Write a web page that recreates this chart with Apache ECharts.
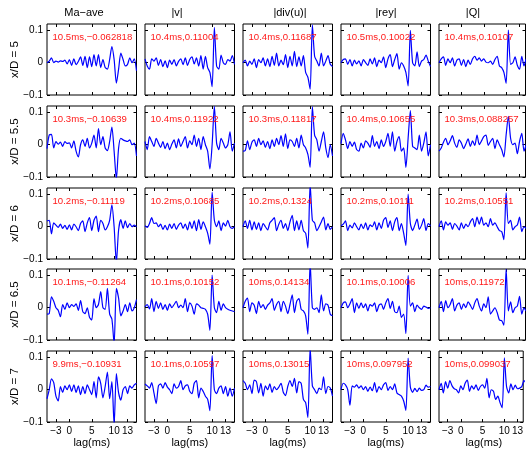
<!DOCTYPE html>
<html>
<head>
<meta charset="utf-8">
<script src="https://cdn.jsdelivr.net/npm/echarts@6/dist/echarts.min.js"></script>
<style>
html, body { margin: 0; padding: 0; background: #fff; }
#chart { width: 526px; height: 456px; }
</style>
</head>
<body>
<div id="chart"></div>
<script>
// lag grid (ms)
const lag = [-5,-4.5,-4,-3.5,-3,-2.5,-2,-1.5,-1,-0.5,0,0.5,1,1.5,2,2.5,3,3.5,4,4.5,5,5.5,6,6.5,7,7.5,8,8.5,9,9.5,10,10.5,11,11.5,12,12.5,13,13.5,14,14.5,15];

const colNames = ['Ma\u2212ave', '|v|', '|div(u)|', '|rey|', '|Q|'];
const rowNames = ['x/D = 5', 'x/D = 5.5', 'x/D = 6', 'x/D = 6.5', 'x/D = 7'];
const xTicks = [-3, 0, 5, 10, 13];
const yTicks = [-0.1, 0, 0.1];

// x/D = 5
const ma_5  = [0,0.005,0.015,0,0.005,0.002,0.006,0.004,0.008,-0.004,0.01,-0.008,0.012,-0.006,0.004,0.018,-0.008,0.02,-0.015,0.018,-0.012,0.025,-0.01,0.025,-0.015,0.01,-0.015,-0.02,0.01,0.05,0.01,-0.063,-0.02,0.03,0.01,-0.01,-0.005,0.015,0,0.012,-0.025];
const v_5   = [0.012,-0.01,-0.02,0.012,0.005,0.015,-0.008,0.01,-0.012,0.006,-0.015,0.008,-0.005,0.01,-0.01,0.004,0.012,-0.006,0.015,-0.008,0.01,0.018,-0.004,0.015,-0.01,0.022,-0.02,0.02,-0.015,-0.03,-0.074,0.11,-0.01,-0.02,0.024,0,-0.005,0.01,0.005,0.022,-0.005];
const div_5 = [0,0.008,-0.01,0.005,-0.005,0.012,-0.015,0.01,0,0.015,-0.01,0.012,-0.012,0.02,-0.008,0.03,-0.01,0.008,-0.006,0.025,-0.015,0.02,-0.01,0.035,-0.012,0.018,-0.01,0.022,-0.03,-0.045,-0.082,0.117,0.02,0.005,-0.01,0.03,-0.01,0.005,0.022,-0.005,-0.012];
const rey_5 = [0,0.01,0.012,-0.005,0.01,-0.01,0.008,-0.004,0.006,-0.01,0.01,0,-0.008,0.012,-0.004,0.015,-0.012,0.008,0,0.018,-0.015,0.012,0.025,-0.012,0.01,0.028,-0.02,0,-0.01,-0.03,-0.072,0.1,0,-0.01,0.034,-0.012,0.005,0.01,0.024,0.005,-0.012];
const q_5   = [0,0.012,0.018,-0.008,0.012,0,0.015,-0.01,0.008,0.012,-0.008,0.01,-0.012,0.008,-0.005,0.012,0.02,0.008,0.015,0.005,0.012,0.002,0,0.005,-0.005,0.01,0.02,-0.01,-0.015,-0.03,-0.064,0.101,-0.005,0,0.018,-0.008,-0.02,0.02,-0.01,0.012,-0.01];

// x/D = 5.5
const ma_55  = [-0.012,0.03,0.032,-0.01,0.01,0.002,0.008,-0.005,0.01,0.004,0.006,-0.01,0.012,-0.02,-0.038,0,0.015,-0.005,0.02,-0.01,0.005,0.03,-0.01,0.05,0,0.025,-0.01,-0.018,0.01,0.055,-0.02,-0.106,-0.01,0.02,0.015,0.012,0.01,0.015,0,0.005,-0.035];
const v_55   = [0.01,-0.015,0.025,0.01,-0.005,0.02,0.005,-0.008,0.01,-0.012,0.005,-0.015,0.002,0.015,-0.01,0.018,-0.005,0.01,0.025,-0.01,0.012,0,0.03,-0.005,0.02,-0.015,0.025,0,-0.02,-0.075,0,0.119,0.005,-0.015,0.02,0.005,-0.01,0,0.04,-0.02,0.005];
const div_55 = [-0.02,-0.018,0.012,-0.015,0.008,0.015,-0.005,0.02,0,0.012,-0.008,0.01,-0.012,0.015,-0.005,0.02,0,0.028,-0.005,0.034,-0.012,0.015,0.01,-0.005,0.02,-0.01,0.03,0,-0.01,-0.03,-0.07,0.118,0.03,0.015,-0.02,0.01,0.04,-0.01,-0.04,0,-0.035];
const rey_55 = [0.003,0.035,0.015,-0.012,0.01,-0.005,0.008,-0.015,-0.02,0.005,-0.01,0.012,0.005,-0.008,0.028,-0.005,0.01,-0.012,0.015,-0.005,0.01,0.035,-0.005,0.04,-0.02,0.01,0.025,-0.02,-0.01,-0.07,0.02,0.106,-0.005,-0.01,-0.015,0.03,-0.02,0.005,0.04,-0.035,0];
const q_55   = [-0.02,-0.01,0.008,0.02,0,0.012,0.028,0.005,-0.008,0.015,0.005,-0.012,0.002,0.018,-0.005,0.012,-0.002,0.03,0,0.012,0.025,0.03,-0.002,0.01,0.02,-0.012,0.015,0,-0.015,-0.038,0.03,0.088,0.02,0,0.005,-0.028,0.01,0.035,-0.02,0,0.01];

// x/D = 6
const ma_6  = [0.018,0.02,-0.022,0.012,0.005,-0.002,0.008,-0.005,0.004,-0.008,0.006,-0.01,0.008,0,-0.012,0.01,0.018,-0.015,0.012,0.028,-0.012,0.02,0.033,-0.015,0.02,0.01,-0.01,0,0.02,0.068,0,-0.111,-0.01,0.022,-0.005,0.018,-0.003,0.01,0,0.005,0];
const v_6   = [0.003,-0.002,0.01,0.028,0.01,0.012,0,0.008,-0.008,0.004,-0.01,0.008,-0.005,0.01,-0.008,0.005,0.012,-0.005,0.008,-0.01,0.015,-0.005,0.018,-0.012,0.022,-0.008,0.015,0,-0.02,-0.054,0.107,0.02,0,0.018,-0.012,0.012,0.002,0.02,0,-0.005,0];
const div_6 = [0,0.018,-0.005,0.02,-0.01,0.015,-0.008,0.012,-0.012,0.01,0,-0.01,0.012,0.02,0.028,-0.012,0.008,0.02,-0.005,0.01,-0.012,0.015,0.035,-0.012,0.018,-0.01,0.02,-0.012,-0.02,-0.066,0.132,0.02,0.012,-0.012,0,0.015,0.03,-0.01,0.01,-0.008,0];
const rey_6 = [0.003,0.008,0.018,-0.012,0.005,-0.004,0.012,0,-0.01,0.008,-0.006,0.012,-0.01,0.006,0,0.015,-0.01,0.012,-0.005,0.02,0.028,-0.002,0.018,-0.012,0.015,0.028,-0.012,0.01,-0.02,-0.058,0.101,0.01,-0.012,0.005,0.024,-0.008,0.005,0.025,-0.012,0.01,0.003];
const q_6   = [0,0.018,-0.01,0.015,0.005,0.012,-0.008,0.01,0.002,-0.01,0.012,-0.005,0.008,0,0.015,0.025,0,0.03,0.008,0.03,0.005,0.012,0,0.025,0.005,0.012,0,-0.012,-0.015,-0.04,0.105,0.01,0.02,-0.01,0,0.005,0.03,-0.015,0,-0.005,0];

// x/D = 6.5
const ma_65  = [-0.02,-0.018,0.034,0.02,0,-0.008,-0.028,0.01,-0.005,0.015,0,0.01,0.004,0.012,-0.008,0.022,-0.012,-0.018,0,-0.03,-0.038,0.028,0,0.01,0.05,0,-0.005,0.06,-0.02,-0.035,-0.112,0.06,0.03,-0.025,-0.01,0.01,-0.012,0.015,-0.01,0,0.025];
const v_65   = [0.003,0.01,-0.004,0.028,-0.012,0.02,-0.002,0.015,-0.005,0.01,-0.008,0.012,0,0.01,0.02,0,0.008,0,0.028,-0.012,0.015,0.005,-0.02,0.012,0.008,0,-0.002,-0.005,-0.02,-0.07,0.101,0,-0.015,0.02,-0.008,0.012,0,-0.005,-0.008,-0.01,-0.012];
const div_65 = [0,0.02,0.03,-0.012,0.015,0.008,-0.018,0.02,0,0.01,-0.005,0.008,0.015,0.028,-0.008,0.01,0.02,-0.012,0.02,0.005,-0.018,0.01,0.04,-0.015,0.02,0.028,-0.005,-0.01,-0.025,-0.082,0.141,0,-0.005,0,-0.015,0.04,-0.01,0.012,0.008,-0.02,-0.025];
const rey_65 = [0,0.015,0.018,0,0.012,0.028,-0.015,0.015,-0.002,0.015,0,0.012,-0.01,0.01,0.005,0.015,-0.012,0.008,0.012,-0.005,0.015,0.028,-0.002,0.02,-0.012,-0.015,0.005,-0.03,-0.02,-0.08,0.1,0.005,0.015,-0.012,0.008,0,-0.005,0.005,0.002,-0.002,0];
const q_65   = [0,0.02,-0.012,0.022,0,0.01,0.028,-0.01,0.008,0.015,-0.005,0.012,0,0.018,0.008,-0.005,0.015,0.028,0.005,-0.01,0.012,0,0.034,-0.02,-0.01,0,-0.015,-0.038,-0.04,-0.054,0.12,-0.01,0.018,-0.015,0,0.005,0.035,-0.02,0,-0.01,-0.01];

// x/D = 7
const ma_7  = [-0.028,0,0.034,0.022,-0.02,-0.035,0.01,-0.008,0.012,0,0.015,-0.005,0.015,-0.008,0.012,-0.015,0.01,-0.012,0.015,0,-0.015,0.025,-0.025,0.04,0.02,-0.025,0.01,0.055,-0.028,0.025,-0.109,0.05,-0.01,-0.032,0,0.01,-0.012,0.012,0.005,0.015,0.02];
const v_7   = [0.018,0.012,0.005,0.022,-0.01,-0.043,0.012,0.018,0.005,0.022,0.008,0,-0.012,0.018,0.005,0.01,0.028,0,0.012,0.015,-0.005,-0.012,0.02,0.028,-0.025,0.005,-0.005,-0.02,-0.03,-0.065,0.106,0,-0.012,0.005,0.012,-0.012,0.01,-0.02,0.005,-0.02,0.005];
const div_7 = [0.028,0.02,0,0.015,-0.012,0.03,0.025,-0.01,0.02,-0.02,0.012,0,0.018,-0.008,0.01,0,0.008,0.02,-0.008,-0.018,0.01,0.028,0.01,0.035,-0.01,0.025,0.02,-0.03,-0.04,-0.086,0.13,0.012,0,-0.012,0.005,0,0.04,-0.012,0.01,0.005,-0.02];
const rey_7 = [0,0.02,0.015,0,-0.048,0.012,0.008,0.015,0.005,0.012,0,0.01,-0.005,0.008,-0.003,0.022,-0.008,0.01,0,0.015,0.022,-0.002,0.01,0,0.018,-0.01,-0.015,-0.02,-0.035,-0.064,0.098,0.008,-0.008,0.004,-0.006,0.005,-0.002,0,0.014,0.008,0.01];
const q_7   = [0,0.02,-0.01,0.025,0.005,0.028,0.012,0.003,0,-0.01,0.012,0,0.02,0.03,-0.005,0.012,0.002,0.015,-0.002,0.01,0.015,0.005,0.035,-0.025,0,-0.005,-0.03,-0.02,-0.04,-0.056,0.099,0.01,-0.01,0.018,0,0.014,0.003,0.005,0.01,0.028,0.02];

// peak annotations (lag of max |corr|, value)
const peak_5  = ['10.5ms,\u22120.062818', '10.4ms,0.11004', '10.4ms,0.11687', '10.5ms,0.10022', '10.4ms,0.10107'];
const peak_55 = ['10.3ms,\u22120.10639', '10.4ms,0.11922', '10.3ms,0.11817', '10.4ms,0.10655', '10.3ms,0.088257'];
const peak_6  = ['10.2ms,\u22120.11119', '10.2ms,0.10685', '10.2ms,0.1324', '10.2ms,0.10111', '10.2ms,0.10551'];
const peak_65 = ['10.1ms,\u22120.11264', '10.1ms,0.10152', '10ms,0.14134', '10.1ms,0.10006', '10ms,0.11972'];
const peak_7  = ['9.9ms,\u22120.10931', '10.1ms,0.10597', '10ms,0.13015', '10ms,0.097952', '10ms,0.099037'];

const panels = [
  [ma_5, v_5, div_5, rey_5, q_5],
  [ma_55, v_55, div_55, rey_55, q_55],
  [ma_6, v_6, div_6, rey_6, q_6],
  [ma_65, v_65, div_65, rey_65, q_65],
  [ma_7, v_7, div_7, rey_7, q_7]
];
const peaks = [peak_5, peak_55, peak_6, peak_65, peak_7];

// layout
const FONT = 'Liberation Sans';
const gridTops = [24, 106, 188, 269, 351];
const gridH = 71;
const gridW = 89.5;
const colStep = 98;
const firstLeft = 47;
const titleX = [84, 177, 290, 386, 473];

const fmt = v => String(v).replace('-', '\u2212');

const grids = [], xAxes = [], yAxes = [], series = [], graphics = [];

panels.forEach((row, r) => {
  row.forEach((vals, c) => {
    const gi = grids.length;
    const left = firstLeft + colStep * c;
    // last column is cut by the page edge
    const w = c === 4 ? 86.5 : gridW;
    const xMax = c === 4 ? -5 + 20 * w / gridW : 15;
    grids.push({
      left: left, top: gridTops[r], width: w, height: gridH,
      show: true, borderColor: '#000', borderWidth: 1, backgroundColor: 'transparent'
    });
    ['bottom', 'top'].forEach(pos => {
      xAxes.push({
        type: 'value', gridIndex: gi, position: pos, min: -5, max: xMax,
        axisLine: { show: false, onZero: false }, splitLine: { show: false },
        axisTick: { show: true, inside: true, length: 3, customValues: xTicks, lineStyle: { color: '#000' } },
        axisLabel: {
          show: pos === 'bottom' && r === 4, customValues: xTicks, formatter: fmt,
          fontSize: 10, fontFamily: FONT, color: '#000', margin: 4
        }
      });
    });
    ['left', 'right'].forEach(pos => {
      yAxes.push({
        type: 'value', gridIndex: gi, position: pos, min: -0.1, max: 0.12,
        axisLine: { show: false, onZero: false }, splitLine: { show: false },
        axisTick: { show: true, inside: true, length: 3, customValues: yTicks, lineStyle: { color: '#000' } },
        axisLabel: {
          show: pos === 'left' && c === 0, customValues: yTicks, formatter: fmt,
          fontSize: 10, fontFamily: FONT, color: '#000', margin: 4
        }
      });
    });
    series.push({
      type: 'line', xAxisIndex: 2 * gi, yAxisIndex: 2 * gi,
      data: lag.map((t, i) => [t, vals[i]]),
      showSymbol: false, symbol: 'none', smooth: 0.25, clip: true,
      lineStyle: { color: '#0000ff', width: 1.2 },
      animation: false
    });
    graphics.push({
      type: 'text', x: left + 5.5, y: gridTops[r] + 13.5, z: 100,
      style: {
        text: peaks[r][c], fill: '#ff1a1a', fontSize: 9.6, fontFamily: FONT,
        align: 'left', verticalAlign: 'middle', textAlign: 'left', textVerticalAlign: 'middle'
      }
    });
  });
});

colNames.forEach((name, c) => {
  graphics.push({
    type: 'text', x: titleX[c], y: 13,
    style: { text: name, fill: '#000', fontSize: 11, fontFamily: FONT,
      align: 'center', verticalAlign: 'middle', textAlign: 'center', textVerticalAlign: 'middle' }
  });
  graphics.push({
    type: 'text', x: firstLeft + colStep * c + gridW / 2, y: 443,
    style: { text: 'lag(ms)', fill: '#000', fontSize: 11, fontFamily: FONT,
      align: 'center', verticalAlign: 'middle', textAlign: 'center', textVerticalAlign: 'middle' }
  });
});

rowNames.forEach((name, r) => {
  graphics.push({
    type: 'text', x: 15, y: gridTops[r] + gridH / 2, rotation: Math.PI / 2,
    style: { text: name, fill: '#000', fontSize: 11.5, fontFamily: FONT,
      align: 'center', verticalAlign: 'middle', textAlign: 'center', textVerticalAlign: 'middle' }
  });
});

const chart = echarts.init(document.getElementById('chart'), null, { renderer: 'canvas' });
chart.setOption({
  animation: false,
  backgroundColor: '#fff',
  grid: grids,
  xAxis: xAxes,
  yAxis: yAxes,
  series: series,
  graphic: graphics
});
</script>
</body>
</html>
